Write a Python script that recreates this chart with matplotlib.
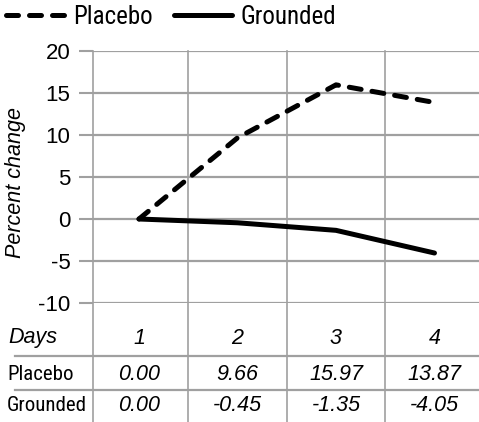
import matplotlib
matplotlib.use("Agg")
import matplotlib.pyplot as plt
import matplotlib.transforms as mtransforms

days = [1, 2, 3, 4]
placebo = [0.00, 9.66, 15.97, 13.87]
grounded = [0.00, -0.45, -1.35, -4.05]
series_names = ["Placebo", "Grounded"]
yticks = [-10, -5, 0, 5, 10, 15, 20]

W, H = 479, 422
GRID = "#a0a0a0"
SANS = ["Liberation Sans", "DejaVu Sans"]
NARROW = ["Roboto Condensed", "Archivo Narrow", "DejaVu Sans"]


def fx(px):
    return px / W


def fy(py):
    return 1 - py / H


fig = plt.figure(figsize=(W / 100, H / 100), dpi=100)
ax = fig.add_axes([fx(93.3), fy(303), fx(W - 93.3), (303 - 51) / H])

ax.set_xlim(0.536, 4.452)
ax.set_ylim(-10, 20)

l1, = ax.plot(days, placebo, color="black", lw=3.6, solid_capstyle="round",
              dash_capstyle="round", label=series_names[0], zorder=3)
l1.set_dashes((2.4, 2.2))
ax.plot(days, grounded, color="black", lw=3.6, solid_capstyle="round",
        label=series_names[1], zorder=3)

for s in ax.spines.values():
    s.set_visible(False)

ax.set_yticks(yticks)
ax.set_yticklabels([str(v) for v in yticks], family=SANS, fontsize=16)
ax.tick_params(axis="y", length=10, width=1.5, color=GRID, pad=6.5)
ax.set_xticks([])
ax.yaxis.grid(True, color=GRID, lw=1.6)
ax.set_axisbelow(True)

# vertical separators, carried down through the table
bottom_frac = -(H - 303) / (303 - 51)
for xb in [0.536, 1.5, 2.5, 3.5]:
    ax.axvline(xb, ymin=bottom_frac, ymax=1, color=GRID, lw=1.2,
               clip_on=False, zorder=1)

fig.text(fx(16), fy(182), "Percent change", rotation=90, ha="center",
         va="center", family=SANS, style="italic", fontsize=15.5)

ax.legend(loc="center left", bbox_to_anchor=(fx(6), fy(17)),
          bbox_transform=fig.transFigure, ncol=2, frameon=False,
          prop={"family": NARROW, "size": 18}, handlelength=2.35,
          handletextpad=0.32, columnspacing=0.85, borderpad=0,
          borderaxespad=0)

# data table
tr = mtransforms.blended_transform_factory(ax.transData, fig.transFigure)
fig.text(fx(8), fy(338), "Days", ha="left", va="center", family=SANS,
         style="italic", fontsize=15.5)
for d in days:
    ax.text(d, fy(338), str(d), transform=tr, ha="center", va="center",
            family=SANS, style="italic", fontsize=15.5)

rows = [(series_names[0], placebo, 374.5), (series_names[1], grounded, 405.5)]
for name, vals, ypx in rows:
    fig.text(fx(7), fy(ypx), name, ha="left", va="center", family=NARROW,
             fontsize=15)
    for d, v in zip(days, vals):
        ax.text(d, fy(ypx), f"{v:.2f}", transform=tr, ha="center",
                va="center", family=SANS, style="italic", fontsize=15.5)

for ypx in [356, 390]:
    fig.add_artist(plt.Line2D([fx(15), 1], [fy(ypx), fy(ypx)], color=GRID,
                              lw=1.6, transform=fig.transFigure))

fig.savefig("out.png", dpi=100)
